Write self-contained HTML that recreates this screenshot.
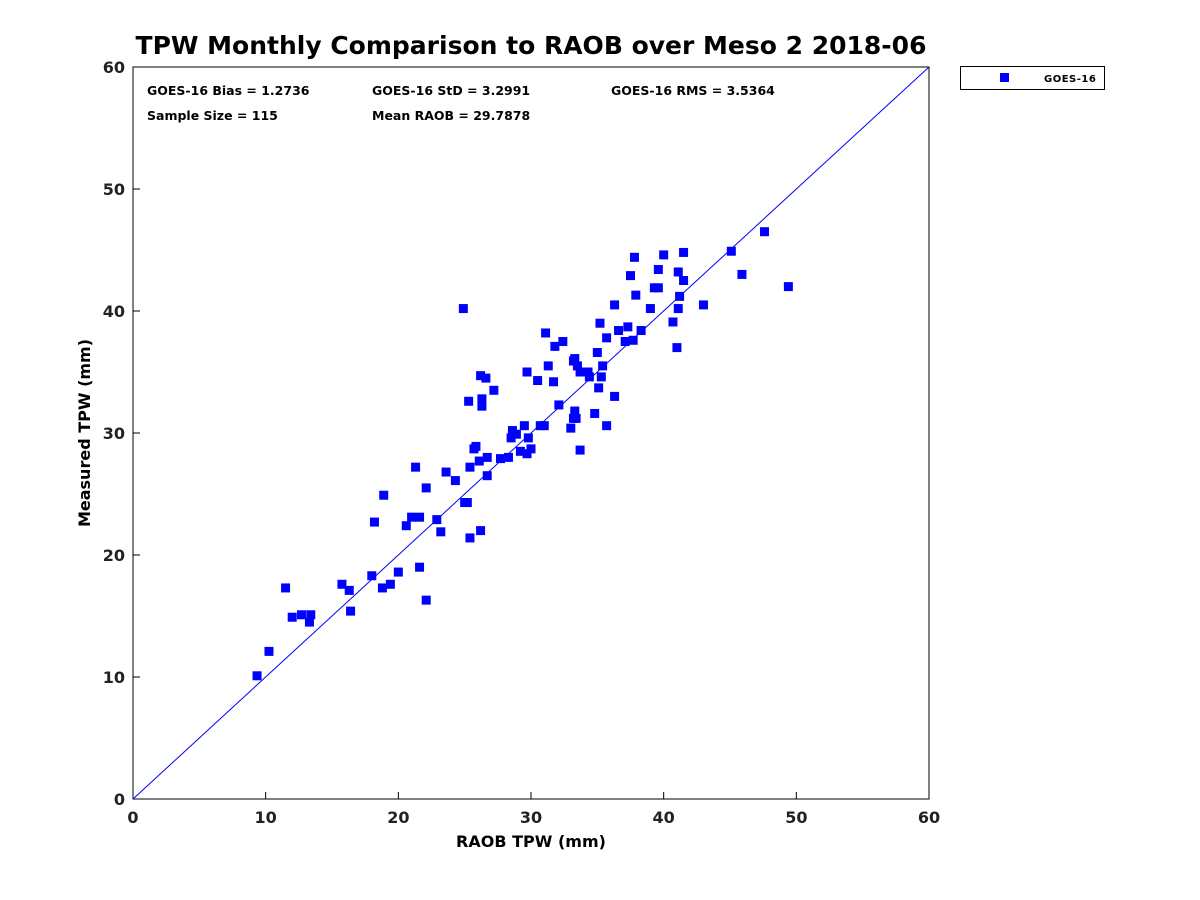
<!DOCTYPE html>
<html><head><meta charset="utf-8"><style>
html,body{margin:0;padding:0;background:#fff;}
svg{display:block;font-family:"DejaVu Sans","Liberation Sans",sans-serif;font-weight:bold;}
</style></head><body>
<svg id="chart" width="1200" height="900" viewBox="0 0 1200 900">
<text x="531" y="54" text-anchor="middle" font-size="25">TPW Monthly Comparison to RAOB over Meso 2 2018-06</text>
<rect x="133" y="67" width="796" height="732" fill="none" stroke="#000" stroke-width="1"/>
<g id="ticks"></g>
<line id="ref-line" stroke="#0000ff" stroke-width="1"/>
<g id="points"></g>
<g font-size="12.5">
<text x="147" y="95">GOES-16 Bias = 1.2736</text>
<text x="372" y="95">GOES-16 StD = 3.2991</text>
<text x="611" y="95">GOES-16 RMS = 3.5364</text>
<text x="147" y="120">Sample Size = 115</text>
<text x="372" y="120">Mean RAOB = 29.7878</text>
</g>
<text x="531" y="847" text-anchor="middle" font-size="16">RAOB TPW (mm)</text>
<text transform="translate(90,433) rotate(-90)" text-anchor="middle" font-size="16">Measured TPW (mm)</text>
<g>
<rect x="960.5" y="66.5" width="144" height="23" fill="#fff" stroke="#000" stroke-width="1"/>
<rect x="1000" y="73" width="9" height="9" fill="#0000ff"/>
<text x="1044" y="82" font-size="10" letter-spacing="0.5">GOES-16</text>
</g>
</svg>
<script>
const xTicks=[0,10,20,30,40,50,60];
const yTicks=[0,10,20,30,40,50,60];
const raobX=[9.35,10.25,11.5,12.0,12.7,13.3,13.4,15.75,16.3,16.4,18.0,18.2,18.9,18.8,19.4,20.0,20.6,21.0,21.3,21.6,21.6,22.1,22.1,22.9,23.2,23.6,24.3,24.9,25.0,25.2,25.3,25.4,25.4,25.7,25.85,26.1,26.2,26.2,26.3,26.3,26.6,26.7,26.7,27.2,27.7,28.3,28.5,28.6,28.9,29.2,29.5,29.7,29.7,29.8,30.0,30.5,30.7,31.0,31.1,31.3,31.8,31.7,32.1,32.4,33.0,33.2,33.2,33.3,33.3,33.4,33.5,33.7,33.7,34.3,34.4,34.8,35.0,35.1,35.2,35.3,35.4,35.7,35.7,36.3,36.3,36.6,37.1,37.3,37.7,37.5,37.8,37.9,38.3,39.0,39.3,39.6,39.6,40.0,40.7,41.0,41.1,41.1,41.2,41.5,41.5,43.0,45.1,45.9,47.6,49.4];
const goesY=[10.1,12.1,17.3,14.9,15.1,14.5,15.1,17.6,17.1,15.4,18.3,22.7,24.9,17.3,17.6,18.6,22.4,23.1,27.2,19.0,23.1,25.5,16.3,22.9,21.9,26.8,26.1,40.2,24.3,24.3,32.6,21.4,27.2,28.7,28.9,27.7,34.7,22.0,32.8,32.2,34.5,28.0,26.5,33.5,27.9,28.0,29.6,30.2,29.9,28.5,30.6,35.0,28.3,29.6,28.7,34.3,30.6,30.6,38.2,35.5,37.1,34.2,32.3,37.5,30.4,31.2,35.9,36.1,31.8,31.2,35.5,35.0,28.6,35.0,34.6,31.6,36.6,33.7,39.0,34.6,35.5,30.6,37.8,33.0,40.5,38.4,37.5,38.7,37.6,42.9,44.4,41.3,38.4,40.2,41.9,43.4,41.9,44.6,39.1,37.0,40.2,43.2,41.2,42.5,44.8,40.5,44.9,43.0,46.5,42.0];
const NS='http://www.w3.org/2000/svg';
const X0=133,X1=929,Y0=799,Y1=67,DMIN=0,DMAX=60;
function xs(v){return X0+(v-DMIN)/(DMAX-DMIN)*(X1-X0);}
function ys(v){return Y0-(v-DMIN)/(DMAX-DMIN)*(Y0-Y1);}
const tg=document.getElementById('ticks');
xTicks.forEach(t=>{
  const l=document.createElementNS(NS,'line');
  l.setAttribute('x1',xs(t));l.setAttribute('x2',xs(t));l.setAttribute('y1',Y0);l.setAttribute('y2',Y0-7);l.setAttribute('stroke','#000');
  
  
  tg.appendChild(l);
  const tx=document.createElementNS(NS,'text');
  tx.setAttribute('x',xs(t));tx.setAttribute('y',Y0+24);tx.setAttribute('text-anchor','middle');tx.setAttribute('font-size','16');tx.setAttribute('fill','#222');
  tx.textContent=t;
  
  
  tg.appendChild(tx);
});
yTicks.forEach(t=>{
  const l=document.createElementNS(NS,'line');
  l.setAttribute('x1',X0);l.setAttribute('x2',X0+7);l.setAttribute('y1',ys(t));l.setAttribute('y2',ys(t));l.setAttribute('stroke','#000');
  
  
  tg.appendChild(l);
  const tx=document.createElementNS(NS,'text');
  tx.setAttribute('x',X0-8);tx.setAttribute('y',ys(t)+6);tx.setAttribute('text-anchor','end');tx.setAttribute('font-size','16');tx.setAttribute('fill','#222');
  tx.textContent=t;
  
  
  tg.appendChild(tx);
});
const rl=document.getElementById('ref-line');
rl.setAttribute('x1',xs(0));rl.setAttribute('y1',ys(0));rl.setAttribute('x2',xs(60));rl.setAttribute('y2',ys(60));
const pg=document.getElementById('points');
raobX.forEach((v,i)=>{
  const r=document.createElementNS(NS,'rect');
  r.setAttribute('x',xs(v)-4.5);r.setAttribute('y',ys(goesY[i])-4.5);r.setAttribute('width',9);r.setAttribute('height',9);r.setAttribute('fill','#0000ff');
  
  
  pg.appendChild(r);
});
</script>
</body></html>
